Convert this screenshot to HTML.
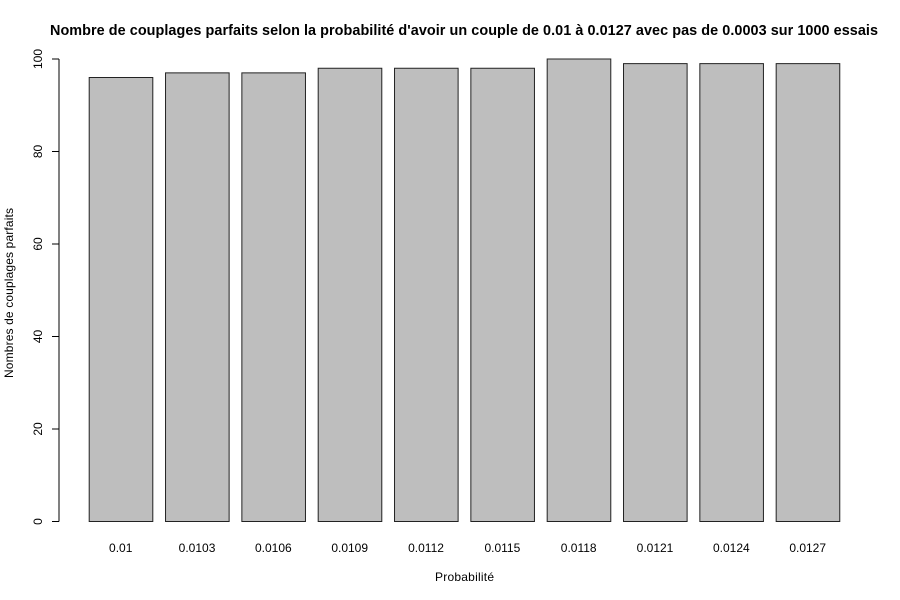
<!DOCTYPE html>
<html>
<head>
<meta charset="utf-8">
<title>Nombre de couplages parfaits</title>
<style>
html,body{margin:0;padding:0;background:#fff;}
svg{display:block;font-family:"Liberation Sans",Arial,sans-serif;}
text{fill:#000;}
</style>
</head>
<body>
<svg id="chart" width="900" height="600" viewBox="0 0 900 600" xmlns="http://www.w3.org/2000/svg">
<rect x="0" y="0" width="900" height="600" fill="#ffffff"/>
<text x="464" y="35" font-size="14.4" font-weight="bold" text-anchor="middle" textLength="828" lengthAdjust="spacing">Nombre de couplages parfaits selon la probabilité d'avoir un couple de 0.01 à 0.0127 avec pas de 0.0003 sur 1000 essais</text>
<text x="464.5" y="581" font-size="12" text-anchor="middle" textLength="59" lengthAdjust="spacing">Probabilité</text>
<text transform="translate(13,293) rotate(-90)" font-size="12" text-anchor="middle" textLength="170" lengthAdjust="spacing">Nombres de couplages parfaits</text>
<g id="bars"></g>
<g id="xlabels"></g>
<g id="yaxis"></g>
</svg>
<script>
const categories = ["0.01","0.0103","0.0106","0.0109","0.0112","0.0115","0.0118","0.0121","0.0124","0.0127"];
const seriesValues = [96,97,97,98,98,98,100,99,99,99];
const yTicks = [0,20,40,60,80,100];

const NS = 'http://www.w3.org/2000/svg';
function yScale(v){ return 521.5 - v * 4.625; }
function xLeft(i){ return 89.2 + i * 76.33; }
const barWidth = 63.6;

function make(tag, attrs, parent){
  const el = document.createElementNS(NS, tag);
  for (const k in attrs) el.setAttribute(k, attrs[k]);
  parent.appendChild(el);
  return el;
}

const barsG = document.getElementById('bars');
const xG = document.getElementById('xlabels');
const yG = document.getElementById('yaxis');

seriesValues.forEach(function(v, i){
  const top = yScale(v);
  const bar = make('rect', {x:xLeft(i), y:top, width:barWidth, height:yScale(0)-top, fill:'#bebebe', stroke:'#222', 'stroke-width':1}, barsG);
  
  
  const label = make('text', {x:xLeft(i)+barWidth/2-0.3, y:552, 'font-size':12, 'text-anchor':'middle'}, xG);
  label.textContent = categories[i];
  
  
});

const axisLine = make('line', {x1:59, x2:59, y1:yScale(yTicks[0]), y2:yScale(yTicks[yTicks.length-1]), stroke:'#000', 'stroke-width':1}, yG);



yTicks.forEach(function(t){
  const y = yScale(t);
  const tick = make('line', {x1:52, x2:59, y1:y, y2:y, stroke:'#000', 'stroke-width':1}, yG);
  
  
  const label = make('text', {transform:'translate(42,' + y + ') rotate(-90)', 'font-size':12, 'text-anchor':'middle'}, yG);
  label.textContent = t;
  
  
});
</script>
</body>
</html>
